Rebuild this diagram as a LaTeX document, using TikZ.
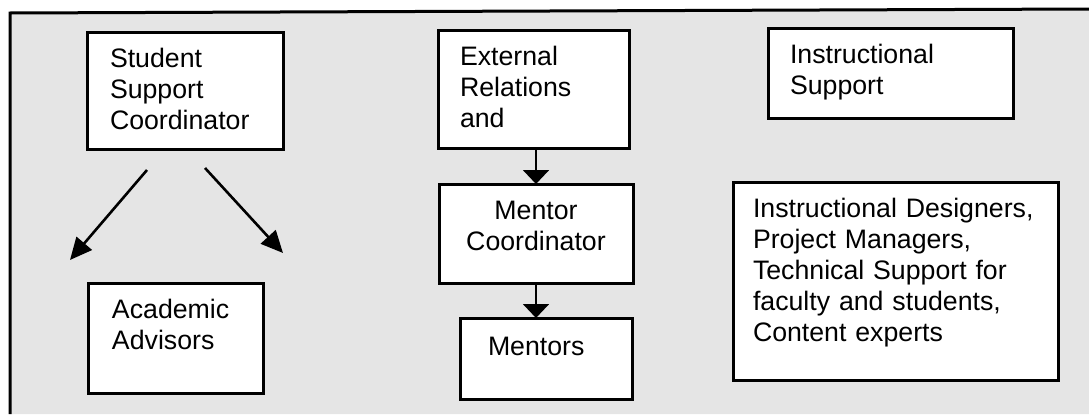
\documentclass[tikz,border=0pt]{standalone}
\usepackage{fontspec}
\setmainfont{Liberation Sans}
\usetikzlibrary{arrows.meta}
\newcommand{\boxfont}{\fontsize{13.35}{15.5}\selectfont}

\begin{document}
\begin{tikzpicture}[x=.5pt,y=.5pt,
    box/.style={draw,line width=1.5pt,fill=white,align=left,anchor=base west,
      inner ysep=0pt,outer sep=0pt,font=\boxfont},
    varrow/.style={line width=1pt,-{Triangle[length=7pt,width=13pt]}},
    darrow/.style={line width=1.3pt,-{Triangle[length=11pt,width=10pt]}}]
  \useasboundingbox (0,0) rectangle (1089,414);

  %% background and frame
  \fill[black!10] (10,0) -- (10,401) -- (1089,405) -- (1089,0) -- cycle;
  \draw[line width=1.5pt] (10,0) -- (10,401) -- (1089,405);

  %% left column
  \node[box,inner xsep=11.5pt,text width=75pt,text height=17.5pt,text depth=41pt]
    (ssc) at (87,347) {Student\\Support\\Coordinator};
  \node[box,inner xsep=12pt,text width=63.5pt,text height=17.5pt,text depth=37.5pt]
    (aa) at (88,96) {Academic\\Advisors};

  %% middle column
  \node[box,inner xsep=11pt,text width=73.5pt,text height=17.5pt,text depth=41.5pt]
    (er) at (438,349) {External\\Relations\\and};
  \node[box,align=center,inner xsep=5pt,text width=87pt,text height=17.5pt,text depth=32pt]
    (mc) at (439,195) {Mentor\\Coordinator};
  \node[box,inner xsep=14pt,text width=58pt,text height=18.5pt,text depth=22pt]
    (men) at (460,59) {Mentors};

  %% right column
  \node[box,inner xsep=11pt,text width=100.5pt,text height=17.5pt,text depth=27.5pt]
    (is) at (768,351) {Instructional\\Support};
  \node[box,inner xsep=10pt,text width=142.5pt,text height=17.5pt,text depth=81.5pt]
    (id) at (733,197) {Instructional Designers,\\Project Managers,\\Technical Support for\\faculty and students,\\Content experts};

  %% arrows
  \coordinate (aal) at (70,154);
  \coordinate (aar) at (283,161);
  \draw[darrow] ([shift={(-38,-21)}]ssc.south) -- (aal);
  \draw[darrow] ([shift={(20,-19)}]ssc.south) -- (aar);
  \draw[varrow] (mc.north |- er.south) -- (mc.north);
  \draw[varrow] (mc.south) -- (mc.south |- men.north);
\end{tikzpicture}
\end{document}
